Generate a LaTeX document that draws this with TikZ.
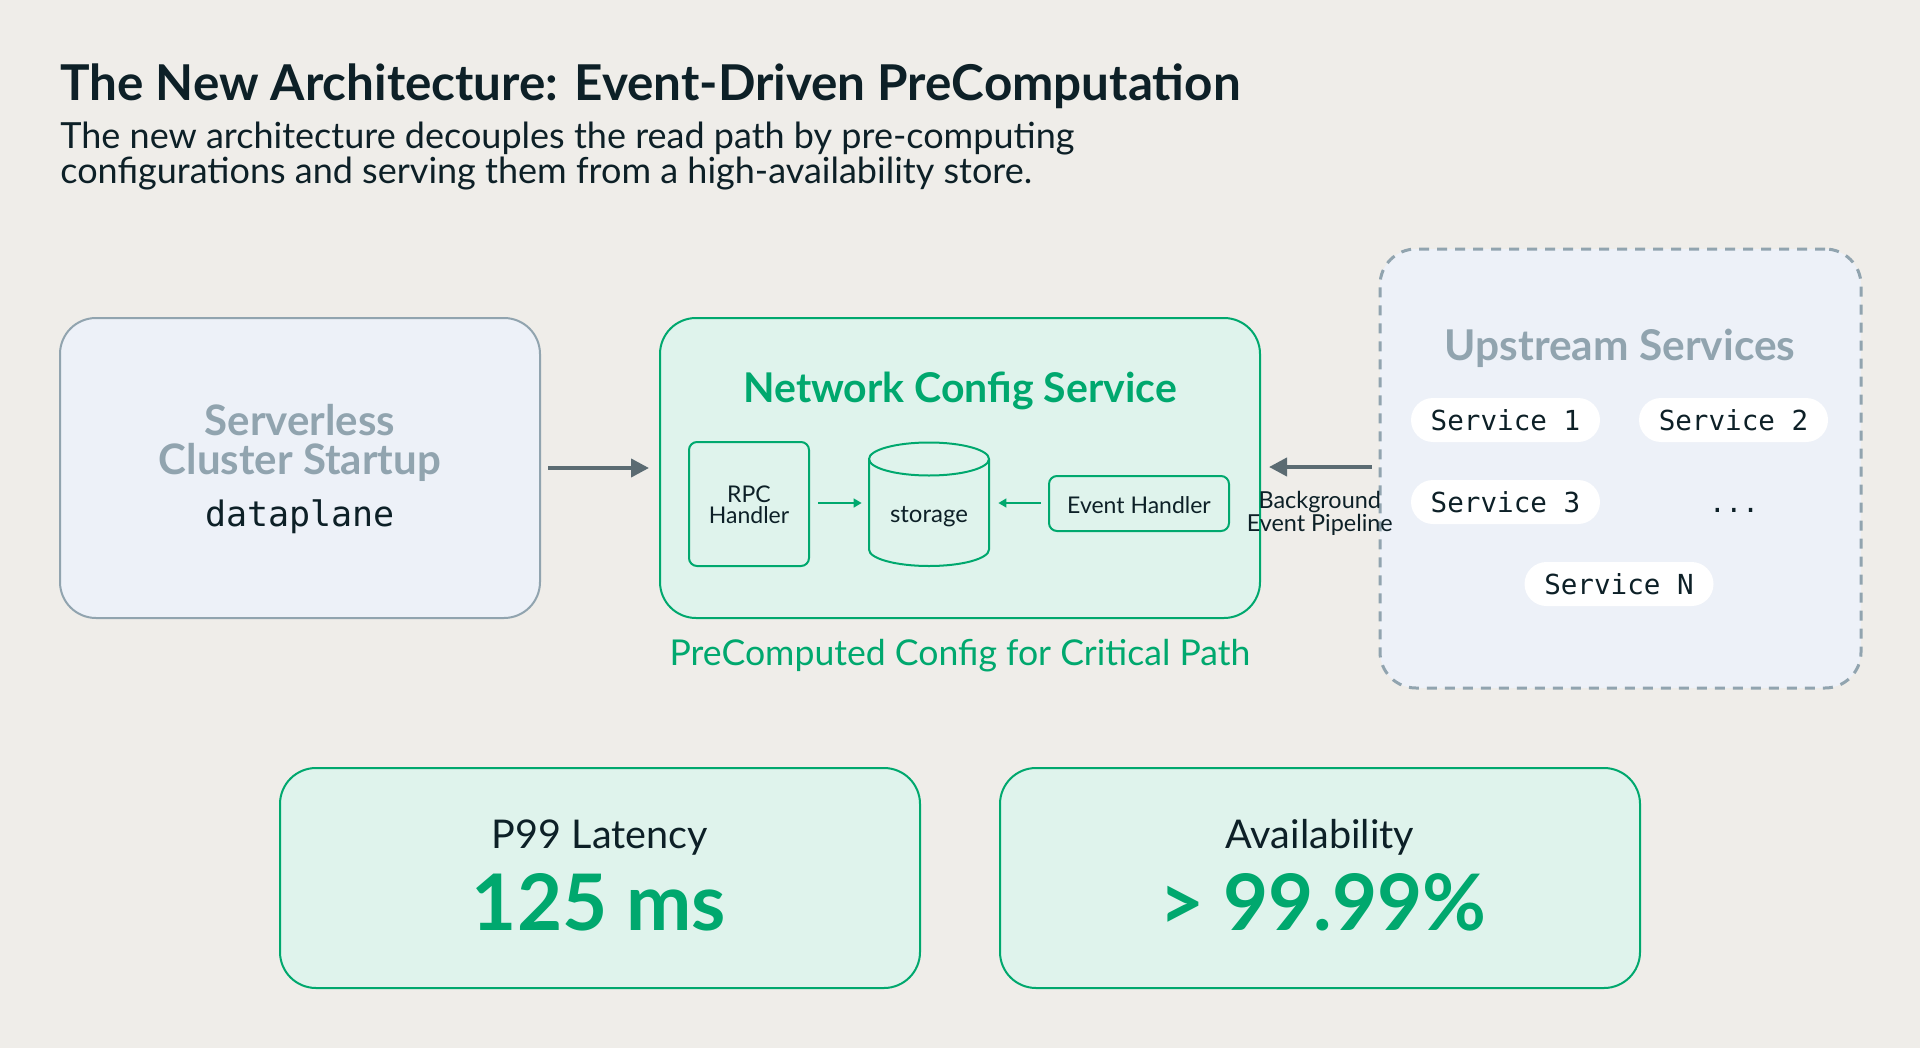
\documentclass[tikz,border=0pt]{standalone}
\usepackage{fontspec}
\setmainfont{Lato}
\setmonofont{DejaVu Sans Mono}
\usetikzlibrary{arrows.meta}
\definecolor{bg}{HTML}{EFEDE9}
\definecolor{ink}{HTML}{0D2027}
\definecolor{grn}{HTML}{00A86E}
\definecolor{grnfill}{HTML}{DFF3EC}
\definecolor{slate}{HTML}{91A4AF}
\definecolor{bluefill}{HTML}{EDF1F8}
\definecolor{arrowc}{HTML}{5B6B72}
\begin{document}
\begin{tikzpicture}[x=0.5pt,y=-0.5pt,
  bigbox/.style={line width=1pt, rounded corners=18pt, inner sep=0},
  greenbox/.style={bigbox, draw=grn, fill=grnfill},
  smallbox/.style={draw=grn, fill=grnfill, line width=1pt, rounded corners=4pt, inner sep=0},
  pill/.style={fill=white, rounded corners=11pt, minimum width=94.5pt, minimum height=22pt,
    inner sep=0, font=\ttfamily\fontsize{13.8}{16}\selectfont, text=ink},
  slatehead/.style={font=\bfseries\fontsize{21}{19.5}\selectfont, text=slate, inner sep=0, align=center},
  smalltext/.style={font=\fontsize{11.5}{10.5}\selectfont, text=ink, inner sep=0, align=center},
  bigarrow/.style={draw=arrowc, line width=2pt, -{Triangle[length=9pt,width=9pt]}},
  smallarrow/.style={draw=grn, line width=0.8pt, -{Triangle[length=4pt,width=4.5pt]}},
  metric/.style={font=\bfseries\fontsize{39}{44}\selectfont, text=grn, inner sep=0},
  metriclabel/.style={font=\fontsize{19.8}{22}\selectfont, text=ink, inner sep=0}
]
\fill[bg] (0,0) rectangle (1920,1048);
\useasboundingbox (0,0) rectangle (1920,1048);

% title
\node[anchor=base west, inner sep=0, text=ink, font=\bfseries\fontsize{24.7}{28}\selectfont] (title) at (60,100.5)
  {The New Architecture: Event-Driven PreComputation};
\node[anchor=base west, inner sep=0, text=ink, align=left, font=\fontsize{18}{15.5}\selectfont] (subtitle) at (60,183.5)
  {The new architecture decouples the read path by pre-computing\\configurations and serving them from a high-availability store.};

% left box
\node[bigbox, draw=slate, fill=bluefill, minimum width=240pt, minimum height=150pt] (lbox) at (300,468) {};
\node[slatehead, anchor=base] (lboxtitle) at (300,474) {Serverless\\Cluster Startup};
\node[anchor=base, inner sep=0, text=ink, font=\ttfamily\fontsize{17.5}{20}\selectfont] (dp) at (300,526) {dataplane};

% network config service
\node[greenbox, minimum width=300pt, minimum height=150pt] (ncs) at (960,468) {};
\node[anchor=base, inner sep=0, text=grn, font=\bfseries\fontsize{20.5}{22}\selectfont] (ncstitle) at (960,402) {Network Config Service};
\node[smallbox, minimum width=60pt, minimum height=62pt] (rpc) at (749,504) {};
\node[smalltext, anchor=base] (rpctext) at (749,523) {RPC\\Handler};
% storage cylinder
\node[minimum width=60pt, minimum height=62pt, inner sep=0] (st) at (929,504) {};
\filldraw[draw=grn, fill=grnfill, line width=1pt]
  (869,459) -- (869,549.5) arc[start angle=180, end angle=0, x radius=60, y radius=16.5]
  -- (989,459) arc[start angle=0, end angle=-180, x radius=60, y radius=16.5] -- cycle;
\draw[grn, line width=1pt] (869,459) arc[start angle=180, end angle=0, x radius=60, y radius=16.5];
\node[anchor=base, inner sep=0, text=ink, font=\fontsize{12}{13}\selectfont] (sttext) at (929,522) {storage};
\node[smallbox, minimum width=90pt, minimum height=27.5pt] (eh) at (1139,503.5) {};
\node[anchor=base, inner sep=0, text=ink, font=\fontsize{11.5}{13}\selectfont] (ehtext) at (1139,513) {Event Handler};
\draw[smallarrow, shorten <=4pt, shorten >=3.5pt] (rpc.east |- 0,503) -- (st.west |- 0,503);
\draw[smallarrow, shorten <=3.5pt, shorten >=4.5pt] (eh.west |- 0,503) -- (st.east |- 0,503);

\node[anchor=base, inner sep=0, text=grn, font=\fontsize{17.8}{19}\selectfont] (crit) at (960,665) {PreComputed Config for Critical Path};

% upstream
\node[bigbox, draw=slate, fill=bluefill, dash pattern=on 5pt off 4pt, line width=1.5pt,
  minimum width=240.5pt, minimum height=219.5pt] (ups) at (1620.5,468.5) {};
\node[anchor=base, inner sep=0, text=slate, font=\bfseries\fontsize{21.2}{18}\selectfont] (upstitle) at (1620,360.5) {Upstream Services};
\node[pill] (s1) at (1505.5,420) {Service 1};
\node[pill] (s2) at (1733.5,420) {Service 2};
\node[pill] (s3) at (1505.5,502) {Service 3};
\node[anchor=base, inner sep=0, text=ink, font=\ttfamily\fontsize{13.8}{16}\selectfont] (more) at (1734,512) {...};
\node[pill] (sn) at (1619,584) {Service N};

% connectors
\draw[bigarrow, shorten <=3.5pt, shorten >=5pt] (lbox.east) -- (ncs.west);
\draw[bigarrow, shorten <=3.5pt, shorten >=4pt] (ups.west |- 0,467) --
  node[smalltext, font=\fontsize{11.7}{9.6}\selectfont, below=11pt] (bep) {Background\\Event Pipeline} (ncs.east |- 0,467);

% metrics
\node[greenbox, minimum width=320pt, minimum height=110pt] (lat) at (600,878) {};
\node[metriclabel, anchor=base] (lattext) at (600,848) {P99 Latency};
\node[metric, anchor=base] (latval) at (599,930) {125 ms};
\node[greenbox, minimum width=320pt, minimum height=110pt] (av) at (1320,878) {};
\node[metriclabel, anchor=base] (avtext) at (1320,848) {Availability};
\node[metric, anchor=base] (avval) at (1323,930) {> 99.99\%};
\end{tikzpicture}
\end{document}
